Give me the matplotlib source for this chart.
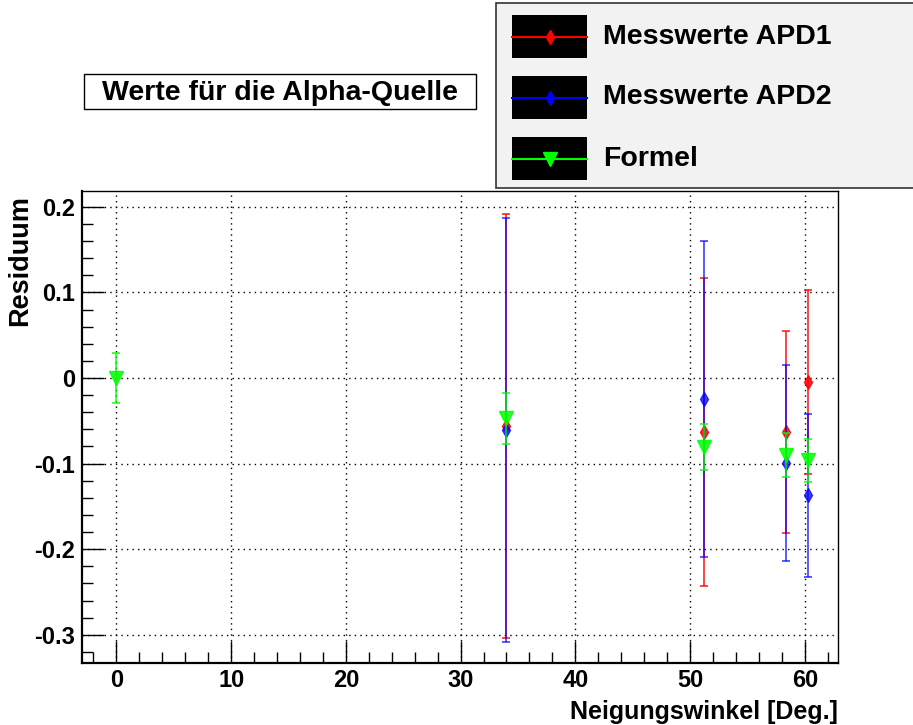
import matplotlib.pyplot as plt
from matplotlib.patches import Rectangle
from matplotlib.lines import Line2D
from matplotlib.ticker import MultipleLocator

plt.rcParams['font.family'] = ['Liberation Sans', 'DejaVu Sans']
plt.rcParams['font.weight'] = 'bold'

# data
winkel_apd = [34.0, 51.2, 58.35, 60.3]
apd1 = [-0.056, -0.0635, -0.063, -0.0045]
apd1_err = [0.2475, 0.180, 0.118, 0.1075]
apd2 = [-0.061, -0.0245, -0.0995, -0.137]
apd2_err = [0.248, 0.185, 0.1145, 0.095]

winkel_formel = [0.0, 34.0, 51.2, 58.35, 60.3]
formel = [0.0, -0.047, -0.081, -0.090, -0.096]
formel_err = [0.029, 0.030, 0.027, 0.026, 0.025]

labels = ['Messwerte APD1', 'Messwerte APD2', 'Formel']
colors = ['#ff0000', '#0000ff', '#00ff00']

fig = plt.figure(figsize=(9.13, 7.25), dpi=100)
ax = fig.add_axes([0.0898, 0.0855, 0.8281, 0.651])

ax.errorbar(winkel_apd, apd1, yerr=apd1_err, fmt='d', color=colors[0], ms=7,
            elinewidth=1.2, capsize=3, capthick=1.2, alpha=0.85, zorder=3)
ax.errorbar(winkel_apd, apd2, yerr=apd2_err, fmt='d', color=colors[1], ms=7,
            elinewidth=1.2, capsize=3, capthick=1.2, alpha=0.75, zorder=4)
ax.errorbar(winkel_formel, formel, yerr=formel_err, fmt='v', color=colors[2], ms=9.5,
            elinewidth=1.2, capsize=3, capthick=1.2, alpha=0.85, zorder=5)

ax.set_xlim(-3.0, 62.9)
ax.set_ylim(-0.333, 0.2185)
ax.xaxis.set_major_locator(MultipleLocator(10))
ax.xaxis.set_minor_locator(MultipleLocator(2))
ax.yaxis.set_major_locator(MultipleLocator(0.1))
ax.yaxis.set_minor_locator(MultipleLocator(0.02))
ax.yaxis.set_major_formatter(plt.FuncFormatter(lambda v, p: '0' if abs(v) < 1e-9 else f'{v:.1f}'))

ax.tick_params(which='both', direction='in', top=False, right=False, labelsize=17, width=1)
ax.tick_params(which='major', length=16)
ax.tick_params(which='minor', length=8)
ax.tick_params(axis='x', pad=4)
ax.tick_params(axis='y', pad=5)
ax.grid(True, which='major', color='black', linestyle=(0, (1, 3)), linewidth=1)

for s in ['left', 'bottom']:
    ax.spines[s].set_linewidth(1.6)
for s in ['top', 'right']:
    ax.spines[s].set_linewidth(1.0)

# axis titles placed ROOT style (right / top aligned)
fig.text(838 / 913, 1 - 719.5 / 725, 'Neigungswinkel [Deg.]', ha='right', va='baseline',
         fontsize=18, fontweight='bold')
fig.text(20 / 913, 1 - 195 / 725, 'Residuum', ha='center', va='top', rotation=90,
         fontsize=19.5, fontweight='bold')

# title box
fig.patches.append(Rectangle((84 / 913, 1 - 109 / 725), 392 / 913, 35 / 725,
                             transform=fig.transFigure, facecolor='white',
                             edgecolor='black', linewidth=1))
fig.text(280 / 913, 1 - 93 / 725, 'Werte für die Alpha-Quelle', ha='center', va='center',
         fontsize=20.5, fontweight='bold')

# legend drawn by hand, ROOT style
fig.patches.append(Rectangle((496 / 913, 1 - 188 / 725), 420 / 913, 185 / 725,
                             transform=fig.transFigure, facecolor='#f2f2f2',
                             edgecolor='#333333', linewidth=1.2))
row_top = [15, 76, 137]
markers = ['d', 'd', 'v']
for lab, c, m, t in zip(labels, colors, markers, row_top):
    y0 = 1 - (t + 43) / 725
    fig.patches.append(Rectangle((512 / 913, y0), 75 / 913, 43 / 725,
                                 transform=fig.transFigure, facecolor='black', edgecolor='none'))
    yc = 1 - (t + 21.5) / 725
    fig.lines.append(Line2D([512 / 913, 587 / 913], [yc, yc], transform=fig.transFigure,
                            color=c, lw=1.5))
    fig.lines.append(Line2D([549.5 / 913], [yc], transform=fig.transFigure, color=c,
                            marker=m, ms=7 if m == 'd' else 9.5, lw=0))
    fig.text(603 / 913, yc, lab, ha='left', va='center', fontsize=20.5, fontweight='bold')

fig.savefig('out.png', dpi=100)
